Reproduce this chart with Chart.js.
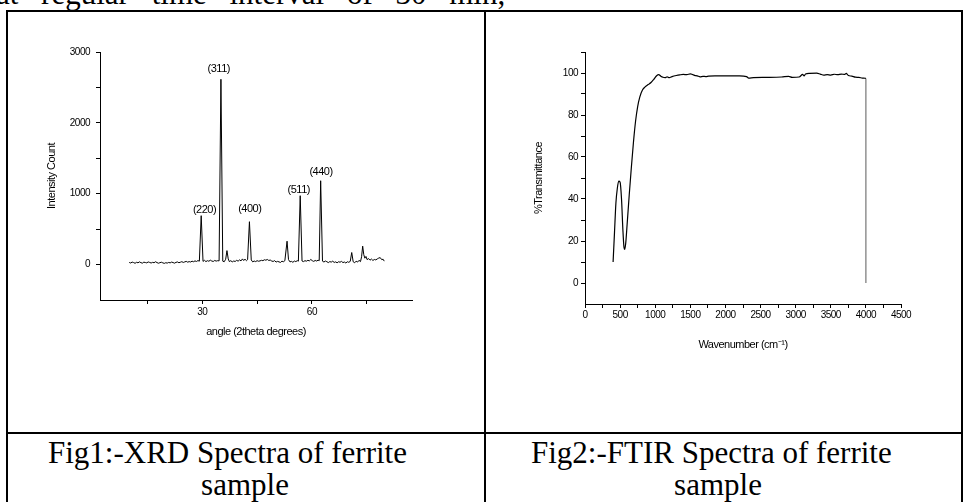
<!DOCTYPE html>
<html><head><meta charset="utf-8">
<script src="https://cdn.jsdelivr.net/npm/chart.js@4.4.1/dist/chart.umd.min.js"></script>
<style>
html,body{margin:0;padding:0;background:#fff;width:965px;height:502px;overflow:hidden;position:relative;}
.t{position:absolute;font-family:"Liberation Serif","Times New Roman",serif;font-size:31px;line-height:31px;color:#000;white-space:nowrap;}
.c{text-align:center;width:240px;}
.b{position:absolute;background:#000;}
canvas{position:absolute;}
</style></head><body>
<div class="t" style="left:-4px;top:-22px;word-spacing:15px">at regular time interval of 30 min,</div>
<div class="b" style="left:6px;top:10px;width:957px;height:2px"></div>
<div class="b" style="left:6px;top:10px;width:2px;height:492px"></div>
<div class="b" style="left:484px;top:10px;width:2px;height:492px"></div>
<div class="b" style="left:961px;top:10px;width:2px;height:492px"></div>
<div class="b" style="left:6px;top:432px;width:957px;height:2px"></div>
<div class="t" style="left:48px;top:437px">Fig1:-XRD Spectra of ferrite</div>
<div class="t c" style="left:125px;top:469px">sample</div>
<div class="t" style="left:531px;top:437px">Fig2:-FTIR Spectra of ferrite</div>
<div class="t c" style="left:598px;top:469px">sample</div>
<canvas id="xrd" width="420" height="320" style="left:20px;top:40px"></canvas>
<canvas id="ftir" width="420" height="330" style="left:510px;top:40px"></canvas>
<script>
// ---------- XRD data ----------
const xrdAngle = [10.0,10.4,10.8,11.2,11.6,12.0,12.4,12.8,13.2,13.6,14.0,14.4,14.8,15.2,15.6,16.0,16.4,16.8,17.2,17.6,18.0,18.4,18.8,19.2,19.6,20.0,20.4,20.8,21.2,21.6,22.0,22.4,22.8,23.2,23.6,24.0,24.4,24.8,25.2,25.6,26.0,26.4,26.8,27.2,27.6,28.0,28.4,28.8,29.2,29.7,30.2,30.6,31.0,31.4,31.8,32.2,32.6,33.0,33.4,33.8,34.2,34.6,35.1,35.6,36.0,36.4,36.75,37.1,37.4,37.8,38.2,38.6,39.0,39.4,39.8,40.2,40.6,41.0,41.3,41.7,42.1,42.4,42.9,43.4,43.8,44.2,44.6,45.0,45.4,45.8,46.2,46.6,47.0,47.4,47.8,48.2,48.6,49.0,49.4,49.8,50.2,50.6,51.0,51.4,51.8,52.2,52.6,53.2,53.6,54.0,54.4,54.8,55.2,55.6,56.0,56.3,56.8,57.3,57.7,58.1,58.5,58.9,59.3,59.7,60.1,60.5,60.9,61.3,61.7,62.0,62.4,62.9,63.3,63.7,64.1,64.5,64.9,65.3,65.7,66.1,66.5,66.9,67.3,67.7,68.1,68.5,68.9,69.3,69.7,70.1,70.5,70.9,71.3,71.7,72.1,72.5,72.9,73.3,73.6,73.9,74.2,74.5,74.8,75.1,75.5,75.9,76.3,76.7,77.1,77.5,77.9,78.3,78.7,79.1,79.5,79.8];
const xrdCount = [30,22,35,28,18,32,25,38,27,20,34,29,24,37,30,22,31,26,40,28,19,27,33,24,17,26,21,30,24,35,28,20,31,37,26,33,41,30,38,45,34,42,36,48,40,52,44,56,48,690,45,60,42,55,47,62,50,44,58,49,55,52,2615,48,40,75,197,80,42,55,38,50,44,60,48,66,52,80,58,75,55,70,605,65,38,50,42,55,47,52,60,55,68,62,72,58,64,50,44,56,35,45,38,30,48,40,55,330,70,38,45,32,50,42,55,48,972,50,42,55,48,60,52,72,55,45,58,50,62,55,1183,48,36,50,40,28,42,35,48,30,38,25,40,33,45,28,36,22,40,32,45,170,40,25,48,35,60,42,110,260,140,90,115,70,85,62,78,58,72,66,80,92,98,70,75,48];
const xrdYTicks = [0,500,1000,1500,2000,2500,3000];
const xrdYLabels = [0,1000,2000,3000];
const xrdXTicks = [15,30,45,60,75];
const xrdXLabels = [30,60];
const peakLabels = ['(220)','(311)','(400)','(511)','(440)'];
const peakLabelAngle = [30.6,34.5,43.0,56.4,62.5];
const peakLabelCount = [775,2760,790,1055,1310];

// ---------- FTIR data ----------
const ftirWave = [400,420,440,460,480,500,520,540,555,565,580,600,630,660,690,720,750,780,820,860,900,940,980,1020,1050,1080,1110,1140,1170,1200,1240,1300,1350,1400,1450,1500,1530,1560,1600,1640,1680,1720,1760,1850,2000,2200,2300,2330,2400,2600,2800,2900,2950,3050,3100,3120,3140,3200,3300,3350,3400,3450,3500,3550,3600,3650,3700,3720,3750,3800,3850,3900,3950,3990,4000];
const ftirTrans = [10,24,38,45,48.5,48,40,25,17,16,19,28,42,55,67,77,84,88.5,92,93.5,94.5,95.5,97,98.7,99.2,98.5,98,97.8,98.2,97.8,98.3,98.8,99.1,99.3,99.2,99.6,99.3,98.9,98.6,98.2,98.4,98.3,98.5,98.6,98.6,98.6,98.3,97.6,97.8,97.9,98.1,98.4,97.9,98.1,99.3,98.6,99.5,99.8,99.9,99.5,99.0,99.2,99.0,99.4,99.2,99.5,99.3,99.8,98.8,98.5,98.0,97.9,97.6,97.5,97.4];
const ftirDropWave = [4000,4000];
const ftirDropTrans = [97.4,0];
const ftirYTicks = [0,10,20,30,40,50,60,70,80,90,100,110];
const ftirYLabels = [0,20,40,60,80,100];
const ftirXTicks = [0,250,500,750,1000,1250,1500,1750,2000,2250,2500,2750,3000,3250,3500,3750,4000,4250,4500];
const ftirXLabels = [0,500,1000,1500,2000,2500,3000,3500,4000,4500];

Chart.defaults.font.family = '"Liberation Sans", Arial, sans-serif';
Chart.defaults.color = '#000';

// condensed text look of the original figure
const tightText = {
  id: 'tightText',
  beforeDraw(chart) { chart.ctx.letterSpacing = '-0.5px'; }
};

const peakLabelPlugin = {
  id: 'peakLabels',
  afterDatasetsDraw(chart) {
    const {ctx, scales} = chart;
    ctx.save();
    ctx.font = '11px "Liberation Sans", Arial, sans-serif';
    ctx.fillStyle = '#000';
    ctx.textAlign = 'center';
    ctx.textBaseline = 'middle';
    peakLabels.forEach((t, i) => {
      ctx.fillText(t, scales.x.getPixelForValue(peakLabelAngle[i]), scales.y.getPixelForValue(peakLabelCount[i]));
    });
    ctx.restore();
  }
};

function axis(opts) {
  return Object.assign({
    type: 'linear',
    grid: {display: true, drawOnChartArea: false, drawTicks: true, tickLength: 4, color: '#000', tickWidth: 1},
    border: {display: true, color: '#000', width: 1},
  }, opts);
}

function makeTicks(list) { return s => { s.ticks = list.map(v => ({value: v})); }; }

new Chart(document.getElementById('xrd'), {
  type: 'line',
  data: {datasets: [{
    data: xrdAngle.map((a, i) => ({x: a, y: xrdCount[i]})),
    borderColor: '#000', borderWidth: 1, pointRadius: 0, tension: 0, fill: false
  }]},
  options: {
    responsive: false, animation: false, events: [],
    layout: {padding: {top: 12, right: 28, left: 0, bottom: 0}, autoPadding: false},
    plugins: {legend: {display: false}, tooltip: {enabled: false}},
    scales: {
      x: axis({min: 2, max: 87.4,
        afterBuildTicks: makeTicks(xrdXTicks),
        afterFit: s => { s.height = 60; },
        ticks: {autoSkip: false, maxRotation: 0, padding: 2, font: {size: 10},
          callback: v => xrdXLabels.includes(v) ? String(v) : ''},
        title: {display: true, text: 'angle (2theta degrees)', font: {size: 11}, padding: {top: 0, bottom: 21.4}}
      }),
      y: axis({min: -500, max: 3000,
        afterBuildTicks: makeTicks(xrdYTicks),
        afterFit: s => { s.width = 80; },
        ticks: {autoSkip: false, padding: 6, font: {size: 10},
          callback: v => xrdYLabels.includes(v) ? String(v) : ''},
        title: {display: true, text: 'Intensity Count', font: {size: 11}, padding: {top: 24.9, bottom: 0}}
      })
    }
  },
  plugins: [tightText, peakLabelPlugin]
});

new Chart(document.getElementById('ftir'), {
  type: 'line',
  data: {datasets: [{
    data: ftirWave.map((w, i) => ({x: w, y: ftirTrans[i]})),
    borderColor: '#000', borderWidth: 1.2, pointRadius: 0, tension: 0.4, cubicInterpolationMode: 'monotone', fill: false
  }, {
    data: ftirDropWave.map((w, i) => ({x: w, y: ftirDropTrans[i]})),
    borderColor: '#777', borderWidth: 1.2, pointRadius: 0, tension: 0, fill: false
  }]},
  options: {
    responsive: false, animation: false, events: [],
    layout: {padding: {top: 12, right: 29, left: 0, bottom: 0}, autoPadding: false},
    plugins: {legend: {display: false}, tooltip: {enabled: false}},
    scales: {
      x: axis({min: 0, max: 4500,
        afterBuildTicks: makeTicks(ftirXTicks),
        afterFit: s => { s.height = 66; },
        ticks: {autoSkip: false, maxRotation: 0, padding: 1, font: {size: 10},
          callback: v => ftirXLabels.includes(v) ? String(v) : ''},
        title: {display: true, text: 'Wavenumber (cm\u207B\u00B9)', font: {size: 11}, padding: {top: 0, bottom: 18.4}}
      }),
      y: axis({min: -10, max: 110,
        afterBuildTicks: makeTicks(ftirYTicks),
        afterFit: s => { s.width = 75; },
        ticks: {autoSkip: false, padding: 3, font: {size: 10},
          callback: v => ftirYLabels.includes(v) ? String(v) : ''},
        title: {display: true, text: '%Transmittance', font: {size: 11}, padding: {top: 22.4, bottom: 0}}
      })
    }
  },
  plugins: [tightText]
});
</script>
</body></html>
